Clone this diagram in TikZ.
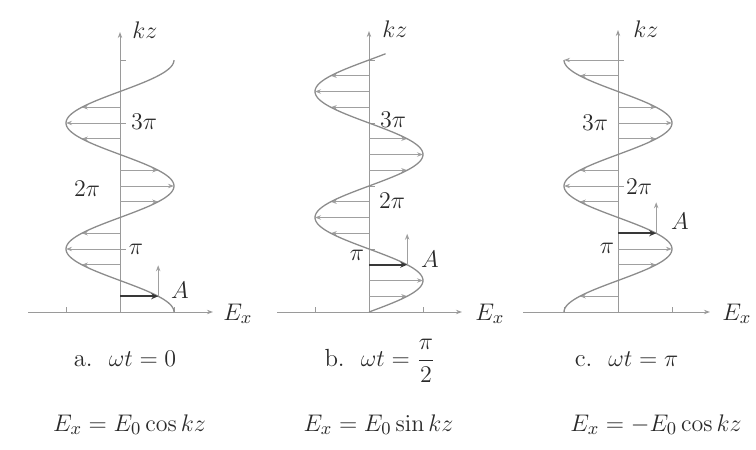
\documentclass[tikz,border=0pt]{standalone}
\usetikzlibrary{arrows.meta}
\definecolor{curvecol}{HTML}{8C8C8C}
\definecolor{arrcol}{HTML}{A0A0A0}
\definecolor{axcol}{HTML}{9A9A9A}
\definecolor{thickcol}{HTML}{383838}
\definecolor{txtcol}{HTML}{2A2A2A}
\begin{document}
\begin{tikzpicture}[x=0.5pt,y=-0.5pt,
  axis/.style={draw=axcol, line width=0.5pt, -{Stealth[length=3pt,width=2.2pt]}},
  tickmark/.style={draw=axcol, line width=0.5pt},
  wave/.style={draw=curvecol, line width=0.65pt},
  field/.style={draw=arrcol, line width=0.45pt, -{Stealth[length=3pt,width=2.2pt]}},
  fieldA/.style={draw=thickcol, line width=1.2pt, -{Stealth[length=3.5pt,width=3pt]}},
  lbl/.style={text=txtcol, inner sep=0pt, font=\fontsize{11.5}{13}\selectfont},
  axlbl/.style={text=txtcol, inner sep=0pt, font=\fontsize{12.5}{14}\selectfont},
  captxt/.style={text=txtcol, inner sep=0pt, anchor=base, font=\fontsize{12.4}{15}\selectfont}
]
\useasboundingbox (0,0) rectangle (756,450);

% ---------- panel a ----------
\begin{scope}[shift={(120,312)}, yscale=-1]
  \draw[axis] (-92,0) -- (93,0);
  \draw[axis] (0,0) -- (0,280);
  \foreach \s in {-54,54} \draw[tickmark] (\s,0) -- (\s,5);
  \foreach \k in {1,2,3,4} \draw[tickmark] (0,63*\k) -- (6,63*\k);
  \foreach \t in {0.75,1,1.25,1.75,2,2.25,2.75,3,3.25}
    \draw[field] (0,{63*\t}) -- ({54*cos(180*\t)},{63*\t});
  \draw[wave] plot[domain=0:4, samples=161, smooth] ({54*cos(180*\x)},{63*\x});
  \coordinate (Ta) at ({54*cos(45)},{63*0.25});
  \draw[fieldA] (0,{63*0.25}) -- (Ta);
  \draw[field] (Ta) -- ++(0,31);
\end{scope}
\node[axlbl, anchor=base west] (kza) at (132,38) {$kz$};
\node[axlbl, anchor=base west] (exa) at (223,320) {$E_x$};
\node[lbl] (a3) at (144,122) {$3\pi$};
\node[lbl] (a2) at (87,189) {$2\pi$};
\node[lbl] (a1) at (136,249) {$\pi$};
\node[lbl] (aA) at (180,290) {$A$};

% ---------- panel b ----------
\begin{scope}[shift={(369,312)}, yscale=-1]
  \draw[axis] (-92,0) -- (93,0);
  \draw[axis] (0,0) -- (0,281);
  \foreach \s in {-54,54} \draw[tickmark] (\s,0) -- (\s,5);
  \foreach \k in {1,2,3,4} \draw[tickmark] (0,63*\k) -- (6,63*\k);
  \foreach \t in {0.25,0.5,1.25,1.5,1.75,2.25,2.5,2.75,3.25,3.5,3.75}
    \draw[field] (0,{63*\t}) -- ({54*sin(180*\t)},{63*\t});
  \draw[wave] plot[domain=0:4.1, samples=165, smooth] ({54*sin(180*\x)},{63*\x});
  \coordinate (Tb) at ({54*sin(135)},{63*0.75});
  \draw[fieldA] (0,{63*0.75}) -- (Tb);
  \draw[field] (Tb) -- ++(0,31);
\end{scope}
\node[axlbl, anchor=base west] (kzb) at (382,37) {$kz$};
\node[axlbl, anchor=base west] (exb) at (475,320) {$E_x$};
\node[lbl] (b3) at (393,120) {$3\pi$};
\node[lbl] (b2) at (392,201) {$2\pi$};
\node[lbl] (b1) at (357,255) {$\pi$};
\node[lbl] (bA) at (430,259) {$A$};

% ---------- panel c ----------
\begin{scope}[shift={(618,312)}, yscale=-1]
  \draw[axis] (-95,0) -- (92,0);
  \draw[axis] (0,0) -- (0,282);
  \foreach \s in {-54,54} \draw[tickmark] (\s,0) -- (\s,5);
  \foreach \k in {1,2,3,4} \draw[tickmark] (0,63*\k) -- (6,63*\k);
  \foreach \t in {0.25,0.75,1,1.75,2,2.25,2.75,3,3.25,3.75,4}
    \draw[field] (0,{63*\t}) -- ({-54*cos(180*\t)},{63*\t});
  \draw[wave] plot[domain=0:4, samples=161, smooth] ({-54*cos(180*\x)},{63*\x});
  \coordinate (Tc) at ({-54*cos(225)},{63*1.25});
  \draw[fieldA] (0,{63*1.25}) -- (Tc);
  \draw[field] (Tc) -- ++(0,31);
\end{scope}
\node[axlbl, anchor=base west] (kzc) at (633,37) {$kz$};
\node[axlbl, anchor=base west] (exc) at (722,320) {$E_x$};
\node[lbl] (c3) at (595,123) {$3\pi$};
\node[lbl] (c2) at (639,187) {$2\pi$};
\node[lbl] (c1) at (607,248) {$\pi$};
\node[lbl] (cA) at (680,221) {$A$};

% ---------- captions ----------
\node[captxt] (capa) at (125,366) {a.~~$\omega t = 0$};
\node[captxt] (capb) at (380,366) {b.~~$\omega t = \displaystyle\frac{\pi}{2}$};
\node[captxt] (capc) at (626.5,366) {c.~~$\omega t = \pi$};
\node[captxt] (fa) at (129.5,431) {$E_x = E_0\cos kz$};
\node[captxt] (fb) at (378.5,431) {$E_x = E_0\sin kz$};
\node[captxt] (fc) at (656,431) {$E_x = -E_0\cos kz$};
\end{tikzpicture}
\end{document}
